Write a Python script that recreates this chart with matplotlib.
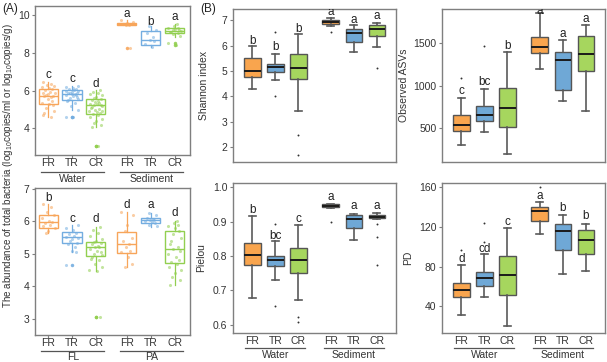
import numpy as np
import matplotlib
matplotlib.use("Agg")
import matplotlib.pyplot as plt
from matplotlib.transforms import blended_transform_factory

plt.rcParams['font.family'] = ['Liberation Sans', 'DejaVu Sans']
plt.rcParams['mathtext.default'] = 'regular'

W, H = 607, 362

sites = ["FR", "TR", "CR"]
fill_colors = ["#F9A54E", "#6FA8D6", "#A6D65E"]
line_colors = ["#F7A55A", "#74ADE0", "#92CF50"]

# ---- panel A : qPCR abundance (box stats: whislo, q1, med, q3, whishi) ----
abund_top_box = [(4.60, 5.28, 5.71, 6.10, 6.47), (5.00, 5.50, 5.81, 6.05, 6.25),
                 (4.10, 4.75, 5.24, 5.55, 6.03), (9.46, 9.48, 9.51, 9.55, 9.72),
                 (8.30, 8.43, 8.69, 9.16, 9.39), (8.85, 9.04, 9.16, 9.30, 9.50)]
abund_top_out = [[], [4.60, 4.60], [3.05, 3.05], [8.24], [], [8.50, 8.40]]
abund_top_letters = ["c", "c", "d", "a", "b", "a"]
abund_top_letter_y = [6.80, 6.59, 6.33, 10.04, 9.65, 9.90]
abund_top_pts = [
    [6.47, 6.35, 6.30, 6.25, 6.20, 6.15, 6.10, 6.05, 5.95, 5.90, 5.85, 5.80, 5.75,
     5.72, 5.70, 5.65, 5.55, 5.45, 5.35, 5.30, 5.25, 5.10, 4.95, 4.80, 4.70, 4.60],
    [6.25, 6.20, 6.15, 6.10, 6.08, 6.05, 6.00, 5.98, 5.95, 5.90, 5.88, 5.85, 5.82, 5.80,
     5.78, 5.75, 5.70, 5.65, 5.60, 5.55, 5.50, 5.45, 5.35, 5.20, 5.00, 4.62, 4.60],
    [6.03, 5.95, 5.90, 5.80, 5.75, 5.65, 5.60, 5.55, 5.50, 5.45, 5.40, 5.35, 5.30, 5.28,
     5.25, 5.22, 5.20, 5.15, 5.10, 5.05, 5.00, 4.95, 4.90, 4.85, 4.80, 4.75, 4.70, 4.60,
     4.50, 4.40, 4.30, 4.20, 4.10, 3.05],
    [9.75, 9.60, 9.55, 9.52, 9.50, 9.50, 9.48, 9.46, 8.25],
    [9.39, 9.20, 9.05, 8.85, 8.70, 8.60, 8.45, 8.30],
    [9.50, 9.40, 9.32, 9.30, 9.25, 9.20, 9.18, 9.15, 9.12, 9.10, 9.05, 9.00, 8.90, 8.50, 8.40],
]

abund_bot_box = [(5.64, 5.81, 5.97, 6.20, 6.54), (5.07, 5.35, 5.51, 5.67, 5.89),
                 (4.46, 4.92, 5.22, 5.38, 5.84), (4.61, 5.02, 5.31, 5.67, 6.30),
                 (5.84, 5.94, 6.03, 6.10, 6.27), (4.05, 4.73, 5.14, 5.71, 6.02)]
abund_bot_out = [[], [4.66], [3.05, 3.05], [], [], []]
abund_bot_letters = ["b", "c", "d", "d", "a", "d"]
abund_bot_letter_y = [6.73, 6.07, 6.07, 6.51, 6.51, 6.25]
abund_bot_pts = [
    [6.54, 6.45, 6.30, 6.20, 6.10, 6.00, 5.97, 5.95, 5.90, 5.85, 5.80, 5.70, 5.64],
    [5.89, 5.80, 5.75, 5.65, 5.60, 5.55, 5.52, 5.50, 5.45, 5.40, 5.35, 5.30, 5.20, 5.10,
     5.07, 4.66],
    [5.84, 5.75, 5.65, 5.55, 5.45, 5.40, 5.38, 5.35, 5.30, 5.25, 5.22, 5.20, 5.15, 5.10,
     5.05, 5.00, 4.95, 4.90, 4.85, 4.80, 4.70, 4.60, 4.50, 4.46, 3.05],
    [6.30, 6.20, 5.90, 5.70, 5.50, 5.40, 5.30, 5.20, 5.10, 5.05, 4.90, 4.70, 4.61],
    [6.27, 6.20, 6.12, 6.08, 6.05, 6.03, 6.00, 5.98, 5.95, 5.90, 5.85],
    [6.02, 5.95, 5.90, 5.85, 5.80, 5.70, 5.60, 5.50, 5.40, 5.30, 5.20, 5.15, 5.10, 5.00,
     4.90, 4.80, 4.75, 4.70, 4.60, 4.50, 4.40, 4.30, 4.20, 4.05],
]

# ---- panel B : alpha diversity ----
shannon_box = [(4.27, 4.75, 5.00, 5.51, 5.97), (4.65, 4.95, 5.15, 5.27, 5.67),
               (3.42, 4.68, 5.11, 5.68, 6.47), (6.76, 6.87, 6.95, 7.03, 7.10),
               (5.76, 6.14, 6.50, 6.66, 6.83), (5.96, 6.40, 6.67, 6.82, 6.90)]
shannon_out = [[], [6.53, 4.00], [2.45, 1.68], [6.53], [], [5.10]]
shannon_letters = ["b", "b", "b", "a", "a", "a"]
shannon_letter_y = [6.17, 5.93, 6.66, 7.33, 7.00, 7.16]

asv_box = [(295, 468, 531, 657, 852), (453, 578, 657, 755, 962),
           (194, 512, 735, 970, 1390), (1198, 1382, 1449, 1570, 1853),
           (821, 943, 1296, 1390, 1539), (703, 1166, 1374, 1578, 1716)]
asv_out = [[1088], [1460], [], [], [], []]
asv_letters = ["c", "bc", "b", "a", "a", "a"]
asv_letter_y = [931, 1037, 1468, 1880, 1606, 1786]

pielou_box = [(0.679, 0.773, 0.804, 0.839, 0.918), (0.730, 0.770, 0.788, 0.800, 0.843),
              (0.672, 0.752, 0.788, 0.824, 0.891), (0.939, 0.942, 0.947, 0.951, 0.952),
              (0.848, 0.882, 0.908, 0.920, 0.923), (0.908, 0.910, 0.913, 0.920, 0.926)]
pielou_out = [[], [0.894, 0.656], [0.624, 0.608], [0.899], [], [0.894, 0.855, 0.775]]
pielou_letters = ["b", "bc", "c", "a", "a", "a"]
pielou_letter_y = [0.934, 0.860, 0.908, 0.971, 0.947, 0.947]

pd_box = [(31.5, 49.5, 56.2, 63.6, 81.6), (49.5, 60.3, 68.7, 74.8, 92.4),
          (20.4, 51.1, 71.4, 90.7, 118.8), (112.7, 126.2, 136.3, 139.7, 144.8),
          (72.8, 96.4, 116.0, 122.8, 132.3), (75.5, 92.4, 106.9, 116.7, 123.5)]
pd_out = [[96.4], [124.5, 104.9], [], [160.0], [], []]
pd_letters = ["d", "cd", "c", "a", "b", "b"]
pd_letter_y = [88.0, 98.1, 125.2, 151.5, 138.7, 131.3]

JIT = [-0.22, 0.14, -0.05, 0.27, -0.30, 0.06, 0.20, -0.14, 0.10, -0.26, 0.30, 0.00,
       -0.10, 0.24, -0.19, 0.12, -0.02, 0.17, -0.28, 0.04, 0.22, -0.08, 0.29, -0.17]

posA = [1, 2, 3, 4.3, 5.3, 6.3]
posB = [1, 2, 3, 4.4, 5.4, 6.4]

fig = plt.figure(figsize=(W / 100, H / 100), dpi=100)


def add_ax(left, top, right, bottom):
    return fig.add_axes([left / W, 1 - bottom / H, (right - left) / W, (bottom - top) / H])


def style(ax):
    for s in ax.spines.values():
        s.set_color("#7f7f7f")
        s.set_linewidth(1.0)
    ax.tick_params(colors="#7f7f7f", labelcolor="#333333", labelsize=7.5, length=2.5, width=0.8, pad=1.5)
    ax.tick_params(axis="x", length=2, pad=0.5)


def to_stats(box, out):
    return [dict(whislo=b[0], q1=b[1], med=b[2], q3=b[3], whishi=b[4], fliers=f)
            for b, f in zip(box, out)]


def groups(ax, pos, names, ax_h, line_px, text_px, left=0.3, right=0.3):
    tr = blended_transform_factory(ax.transData, ax.transAxes)
    for i, name in enumerate(names):
        a, b = pos[3 * i] - left, pos[3 * i + 2] + right
        ax.plot([a, b], [-line_px / ax_h] * 2, color="#555555", lw=0.9, transform=tr, clip_on=False)
        ax.text((a + b) / 2, -text_px / ax_h, name, transform=tr, ha="center", va="center",
                fontsize=7.5, color="#333333")


def panel_a(ax, box, out, pts, letters, letter_y, ylim, yticks, ax_h, names, line_px, text_px):
    style(ax)
    for i, vals in enumerate(pts):
        xs = [posA[i] + 0.9 * JIT[(j + 3 * i) % len(JIT)] for j in range(len(vals))]
        ax.scatter(xs, vals, s=5, color=line_colors[i % 3], alpha=0.55, lw=0, zorder=2)
    bp = ax.bxp(to_stats(box, out), positions=posA, widths=0.8, patch_artist=True, showcaps=False,
                flierprops=dict(marker="o", markersize=2.5, markeredgewidth=0))
    for i in range(6):
        c = line_colors[i % 3]
        bp["boxes"][i].set(facecolor="none", edgecolor=c, lw=1.0, zorder=3)
        bp["medians"][i].set(color=c, lw=1.0, zorder=3)
        for w in bp["whiskers"][2 * i:2 * i + 2]:
            w.set(color=c, lw=0.9)
        bp["fliers"][i].set(markerfacecolor=c, alpha=0.9)
    for p, t, y in zip(posA, letters, letter_y):
        ax.text(p, y, t, ha="center", va="center", fontsize=8.5, color="#222222")
    ax.set_xlim(0.45, 6.95)
    ax.set_ylim(*ylim)
    ax.set_yticks(yticks)
    ax.set_xticks(posA)
    ax.set_xticklabels(sites * 2, fontsize=7.5)
    groups(ax, posA, names, ax_h, line_px, text_px, 0.28, 0.36)


def panel_b(ax, box, out, letters, letter_y, ylim, yticks, ylabel, lab_x, ax_h, show_x):
    style(ax)
    bp = ax.bxp(to_stats(box, out), positions=posB, widths=0.72, patch_artist=True, capwidths=0.3,
                boxprops=dict(edgecolor="#555555", lw=1.0),
                medianprops=dict(color="#1a1a1a", lw=1.4),
                whiskerprops=dict(color="#5a5a5a", lw=1.2),
                capprops=dict(color="#5a5a5a", lw=1.2),
                flierprops=dict(marker="o", markersize=1.4, markerfacecolor="#333333",
                                markeredgewidth=0))
    for i in range(6):
        bp["boxes"][i].set_facecolor(fill_colors[i % 3])
    for p, t, y in zip(posB, letters, letter_y):
        ax.text(p, y, t, ha="center", va="center", fontsize=8.5, color="#222222", clip_on=True)
    ax.set_xlim(0.16, 7.23)
    ax.set_ylim(*ylim)
    ax.set_yticks(yticks)
    ax.set_ylabel(ylabel, fontsize=7.5, color="#333333")
    ax.yaxis.set_label_coords(lab_x, 0.5)
    if show_x:
        ax.set_xticks(posB)
        ax.set_xticklabels(sites * 2, fontsize=7.5)
        ax.tick_params(axis="x", length=0, pad=2)
        groups(ax, posB, ["Water", "Sediment"], ax_h, 15, 22)
    else:
        ax.set_xticks([])


axA1 = add_ax(35, 6, 190, 155)
panel_a(axA1, abund_top_box, abund_top_out, abund_top_pts, abund_top_letters, abund_top_letter_y,
        (2.6, 10.47), [4, 6, 8, 10], 149, ["Water", "Sediment"], 17, 24)
axA2 = add_ax(35, 188, 190, 335)
panel_a(axA2, abund_bot_box, abund_bot_out, abund_bot_pts, abund_bot_letters, abund_bot_letter_y,
        (2.5, 7.03), [3, 4, 5, 6, 7], 147, ["FL", "PA"], 15.5, 21.5)

axS = add_ax(233, 9, 396, 162)
panel_b(axS, shannon_box, shannon_out, shannon_letters, shannon_letter_y,
        (1.4, 7.45), [2, 3, 4, 5, 6, 7], "Shannon index", -0.146, 153, False)
axO = add_ax(442, 9, 605, 162)
panel_b(axO, asv_box, asv_out, asv_letters, asv_letter_y,
        (100, 1900), [500, 1000, 1500], "Observed ASVs", -0.2, 153, False)
axP = add_ax(233, 183, 396, 333)
panel_b(axP, pielou_box, pielou_out, pielou_letters, pielou_letter_y,
        (0.576, 1.013), [0.6, 0.7, 0.8, 0.9, 1.0], "Pielou", -0.165, 150, True)
axP.set_yticklabels(["0.6", "0.7", "0.8", "0.9", "1.0"])
axD = add_ax(442, 183, 605, 333)
panel_b(axD, pd_box, pd_out, pd_letters, pd_letter_y,
        (13, 164.4), [40, 80, 120, 160], "PD", -0.18, 150, True)

fig.text(8 / W, 1 - 166 / H,
         "The abundance of total bacteria (log$_{10}$copies/ml or log$_{10}$copies/g)",
         rotation=90, ha="center", va="center", fontsize=7.1, color="#333333")
fig.text(2 / W, 1 - 9 / H, "(A)", ha="left", va="center", fontsize=8.5, color="#222222")
fig.text(200 / W, 1 - 9 / H, "(B)", ha="left", va="center", fontsize=8.5, color="#222222")

fig.savefig("out.png", dpi=100)
